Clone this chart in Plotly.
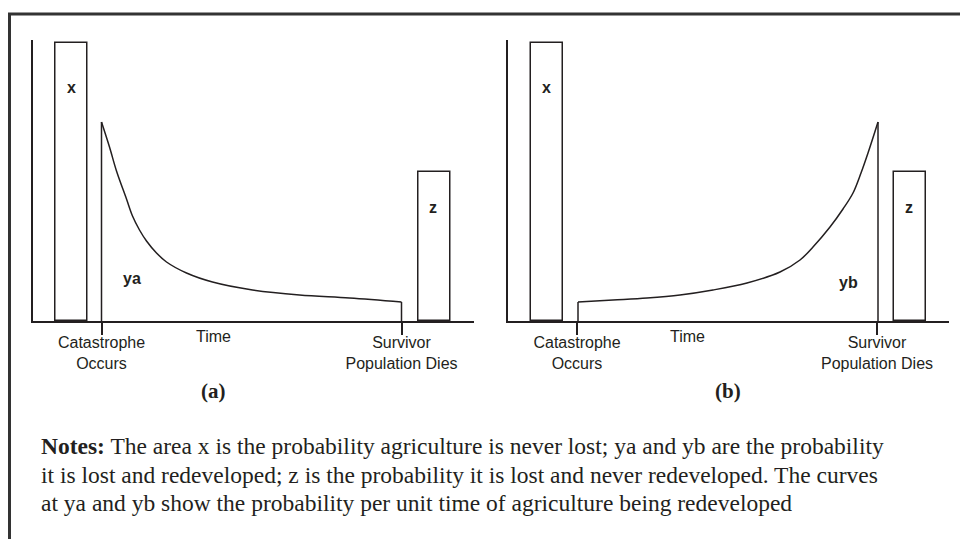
import plotly.graph_objects as go

# ---------------- data ----------------
# time axis units (0 = origin of each panel), rate units (0 = baseline)
catastrophe_t = 69
survivor_dies_t = 369
tick_labels = ["Catastrophe<br>Occurs", "Survivor<br>Population Dies"]

bar_names = ["x", "z"]
bar_centers = [38.5, 401.5]
bar_heights = [278, 149]
bar_width = 32

# panel (a): redevelopment rate decays after the catastrophe
ya_time = [69, 77, 84, 94, 100, 107, 114, 124, 134, 154, 180, 220, 267, 317, 369]
ya_rate = [199, 174, 150, 122, 105, 91, 80, 68, 59, 48, 39, 31, 26, 23, 19]

# panel (b): redevelopment rate rises until the survivors die out
yb_time = [70, 105, 139, 172, 205, 239, 272, 292, 305, 322, 335, 345, 353, 360, 370]
yb_rate = [19, 21, 23, 26, 31, 38, 49, 61, 74, 94, 112, 128, 148, 168, 199]

notes_lines = ["<b>Notes:</b> The area x is the probability agriculture is never lost; ya and yb are the probability",
               "it is lost and redeveloped; z is the probability it is lost and never redeveloped. The curves",
               "at ya and yb show the probability per unit time of agriculture being redeveloped"]

INK = "#231f20"
SANS = "Liberation Sans, Arial, sans-serif"
SERIF = "Liberation Serif, Times New Roman, serif"

W, H = 960, 539
fig = go.Figure()

panels = [("x", "y", ya_time, ya_rate), ("x2", "y2", yb_time, yb_rate)]
for xa, ya, tt, rr in panels:
    fig.add_trace(go.Bar(x=bar_centers, y=bar_heights, width=[bar_width] * 2,
                         marker=dict(color="white", line=dict(color=INK, width=1.5)),
                         xaxis=xa, yaxis=ya, showlegend=False, hoverinfo="skip"))
    fig.add_trace(go.Scatter(x=tt, y=rr, mode="lines", line=dict(color=INK, width=1.5, shape="spline", smoothing=1.0),
                             xaxis=xa, yaxis=ya, showlegend=False, hoverinfo="skip"))
    # vertical drops from curve ends to the baseline
    fig.add_trace(go.Scatter(x=[tt[0], tt[0]], y=[0, rr[0]], mode="lines", line=dict(color=INK, width=1.5),
                             xaxis=xa, yaxis=ya, showlegend=False, hoverinfo="skip"))
    fig.add_trace(go.Scatter(x=[tt[-1], tt[-1]], y=[0, rr[-1]], mode="lines", line=dict(color=INK, width=1.5),
                             xaxis=xa, yaxis=ya, showlegend=False, hoverinfo="skip"))

def px_x(p):
    return p / W

def px_y(p):
    return (H - p) / H

xr = [0, 441]
yr = [0, 281]
axis_common = dict(showgrid=False, zeroline=False, showline=True, linecolor=INK, linewidth=1.5, fixedrange=True)
xcommon = dict(axis_common, range=xr, tickmode="array", tickvals=[catastrophe_t, survivor_dies_t],
               ticktext=tick_labels, ticks="outside", ticklen=12, tickwidth=1.5, tickcolor=INK,
               ticklabelstandoff=-6,
               tickfont=dict(family=SANS, size=16, color=INK))
ycommon = dict(axis_common, range=yr, showticklabels=False, ticks="")

fig.update_layout(
    width=W, height=H, margin=dict(l=0, r=0, t=0, b=0),
    paper_bgcolor="white", plot_bgcolor="rgba(0,0,0,0)",
    xaxis=dict(xcommon, domain=[px_x(32.5), px_x(473.5)], anchor="y"),
    yaxis=dict(ycommon, domain=[px_y(321), px_y(40)], anchor="x"),
    xaxis2=dict(xcommon, domain=[px_x(508), px_x(949)], anchor="y2"),
    yaxis2=dict(ycommon, domain=[px_y(321), px_y(40)], anchor="x2"),
    bargap=0,
)

ann = []
for xa, ya, curve_lbl, time_x, panel_lbl, panel_x, curve_x, curve_y in [
        ("x", "y", "ya", 181, "(a)", 181, 99, 43),
        ("x2", "y2", "yb", 179, "(b)", 220, 340, 39)]:
    ann.append(dict(x=bar_centers[0], y=233, xref=xa, yref=ya, text="<b>x</b>", showarrow=False,
                    font=dict(family=SANS, size=16, color=INK)))
    ann.append(dict(x=bar_centers[1] - 1, y=113, xref=xa, yref=ya, text="<b>z</b>", showarrow=False,
                    font=dict(family=SANS, size=16, color=INK)))
    ann.append(dict(x=curve_x, y=curve_y, xref=xa, yref=ya, text="<b>%s</b>" % curve_lbl, showarrow=False,
                    font=dict(family=SANS, size=16, color=INK)))
    ann.append(dict(x=time_x, y=px_y(336), xref=xa, yref="paper", yanchor="middle", text="Time", showarrow=False,
                    font=dict(family=SANS, size=16, color=INK)))
    ann.append(dict(x=panel_x, y=px_y(391), xref=xa, yref="paper", yanchor="middle",
                    text="<b>%s</b>" % panel_lbl, showarrow=False,
                    font=dict(family=SERIF, size=21, color=INK)))

for i, line in enumerate(notes_lines):
    ann.append(dict(x=px_x(39), y=px_y(446 + 28.5 * i), xref="paper", yref="paper", xanchor="left",
                    yanchor="middle", align="left", text=line, showarrow=False,
                    font=dict(family=SERIF, size=23.5, color=INK)))
fig.update_layout(annotations=ann)

# outer frame (top and left edges of the figure box)
fig.add_shape(type="line", xref="paper", yref="paper", x0=px_x(8), x1=1.0, y0=px_y(14), y1=px_y(14),
              line=dict(color="#333333", width=3))
fig.add_shape(type="line", xref="paper", yref="paper", x0=px_x(9.5), x1=px_x(9.5), y0=px_y(14), y1=0,
              line=dict(color="#333333", width=3))

fig.write_html("out.html", config={"displayModeBar": False},
               post_script="document.body.style.margin='0';")
